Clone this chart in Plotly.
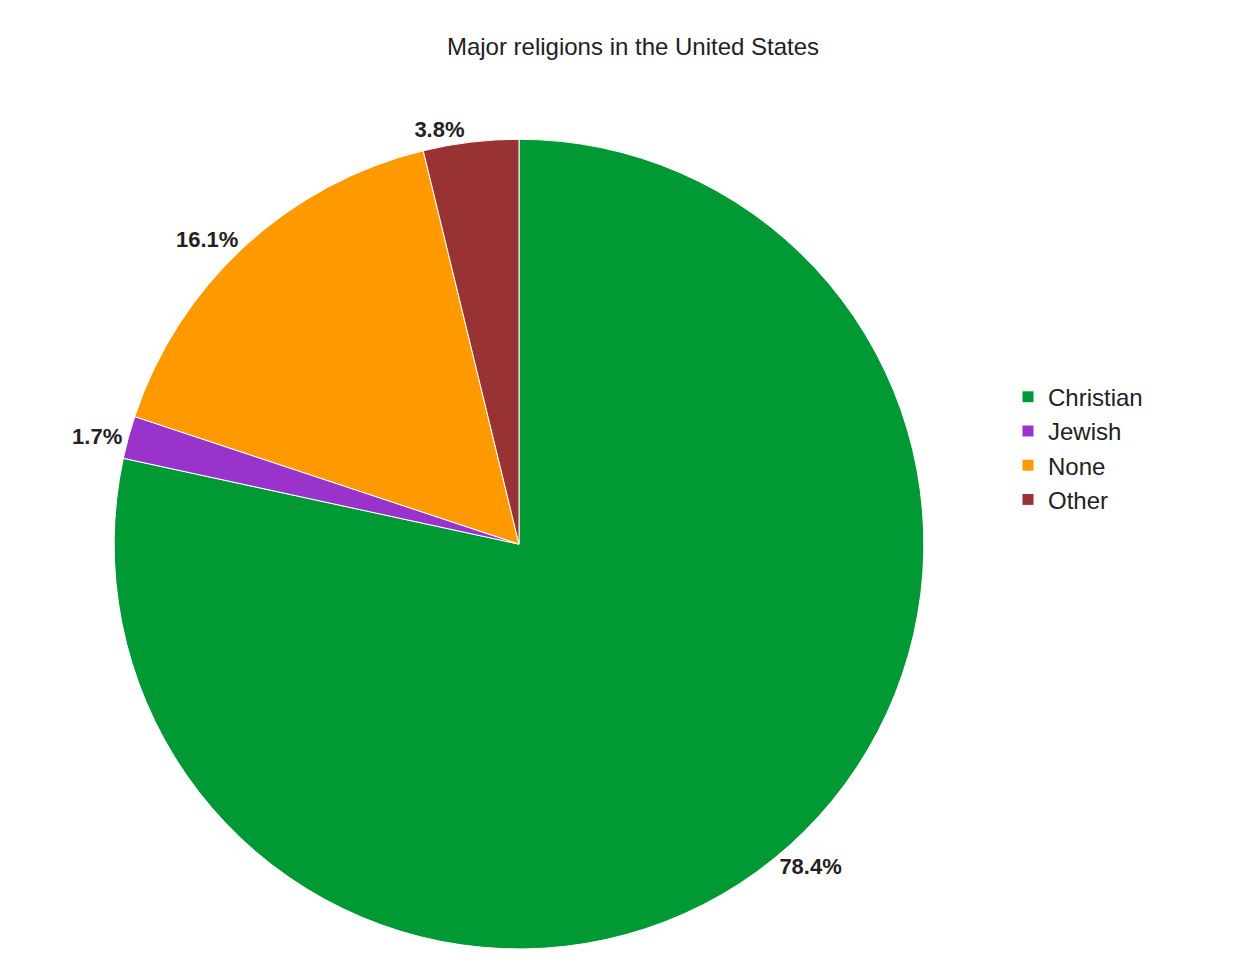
import plotly.graph_objects as go

labels = ["Christian", "Jewish", "None", "Other"]
values = [78.4, 1.7, 16.1, 3.8]
colors = ["#009933", "#9933cc", "#ff9900", "#993333"]

fig = go.Figure(go.Pie(
    labels=labels, values=values, sort=False, direction="clockwise", rotation=0,
    marker=dict(colors=colors, line=dict(color="white", width=1)),
    textposition="outside", texttemplate="<b>%{percent:.1%}</b>",
    textfont=dict(size=22, color="#222"),
    domain=dict(x=[0.0848, 0.7328], y=[0.0249, 0.864]),
    hoverinfo="label+percent",
))
fig.update_layout(
    width=1250, height=965, margin=dict(l=0, r=0, t=0, b=0),
    paper_bgcolor="white",
    font=dict(family="Liberation Sans, Arial, sans-serif", color="#222"),
    title=dict(text="Major religions in the United States", x=0.5, xanchor="center",
               y=0.96, yanchor="middle", font=dict(size=24, color="#222")),
    legend=dict(x=0.8, y=0.62, xanchor="left", yanchor="top",
                font=dict(size=24, color="#222"), itemwidth=30, tracegroupgap=20),
)
fig.write_html("out.html")
